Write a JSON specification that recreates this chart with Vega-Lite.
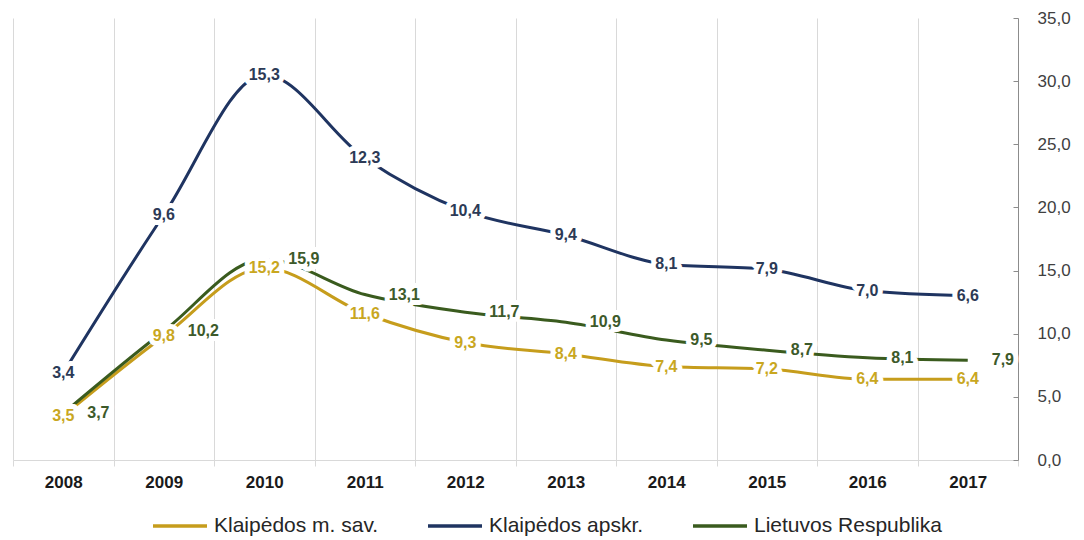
{
  "$schema": "https://vega.github.io/schema/vega-lite/v6.json",
  "width": 1005,
  "height": 442,
  "autosize": {"type": "none"},
  "padding": {"left": 13, "top": 18, "right": 66, "bottom": 80},
  "background": "white",
  "config": {
    "locale": {"number": {"decimal": ",", "thousands": " ", "grouping": [3], "currency": ["", " €"]}},
    "view": {"stroke": null},
    "font": "Liberation Sans"
  },
  "datasets": {
    "d": [
      {"year": "2008", "series": "Klaipėdos m. sav.", "value": 3.5},
      {"year": "2009", "series": "Klaipėdos m. sav.", "value": 9.8},
      {"year": "2010", "series": "Klaipėdos m. sav.", "value": 15.2},
      {"year": "2011", "series": "Klaipėdos m. sav.", "value": 11.6},
      {"year": "2012", "series": "Klaipėdos m. sav.", "value": 9.3},
      {"year": "2013", "series": "Klaipėdos m. sav.", "value": 8.4},
      {"year": "2014", "series": "Klaipėdos m. sav.", "value": 7.4},
      {"year": "2015", "series": "Klaipėdos m. sav.", "value": 7.2},
      {"year": "2016", "series": "Klaipėdos m. sav.", "value": 6.4},
      {"year": "2017", "series": "Klaipėdos m. sav.", "value": 6.4},
      {"year": "2008", "series": "Klaipėdos apskr.", "value": 3.4},
      {"year": "2009", "series": "Klaipėdos apskr.", "value": 9.6},
      {"year": "2010", "series": "Klaipėdos apskr.", "value": 15.3},
      {"year": "2011", "series": "Klaipėdos apskr.", "value": 12.3},
      {"year": "2012", "series": "Klaipėdos apskr.", "value": 10.4},
      {"year": "2013", "series": "Klaipėdos apskr.", "value": 9.4},
      {"year": "2014", "series": "Klaipėdos apskr.", "value": 8.1},
      {"year": "2015", "series": "Klaipėdos apskr.", "value": 7.9},
      {"year": "2016", "series": "Klaipėdos apskr.", "value": 7.0},
      {"year": "2017", "series": "Klaipėdos apskr.", "value": 6.6},
      {"year": "2008", "series": "Lietuvos Respublika", "value": 3.7},
      {"year": "2009", "series": "Lietuvos Respublika", "value": 10.2},
      {"year": "2010", "series": "Lietuvos Respublika", "value": 15.9},
      {"year": "2011", "series": "Lietuvos Respublika", "value": 13.1},
      {"year": "2012", "series": "Lietuvos Respublika", "value": 11.7},
      {"year": "2013", "series": "Lietuvos Respublika", "value": 10.9},
      {"year": "2014", "series": "Lietuvos Respublika", "value": 9.5},
      {"year": "2015", "series": "Lietuvos Respublika", "value": 8.7},
      {"year": "2016", "series": "Lietuvos Respublika", "value": 8.1},
      {"year": "2017", "series": "Lietuvos Respublika", "value": 7.9}
    ]
  },
  "data": {"name": "d"},
  "encoding": {
    "x": {
      "field": "year", "type": "nominal", "bandPosition": 0.5,
      "scale": {"type": "band", "paddingInner": 0, "paddingOuter": 0},
      "axis": {"title": null, "labelAngle": 0, "labelFontSize": 17, "labelFontWeight": "bold", "labelColor": "#1a1a1a",
               "tickBand": "extent", "grid": true, "gridColor": "#D9D9D9", "domainColor": "#D9D9D9", "tickColor": "#D9D9D9",
               "tickSize": 6, "labelPadding": 8}
    }
  },
  "layer": [
    {
      "transform": [
        {"filter": "datum.series != 'Lietuvos Respublika'"},
        {"stack": "value", "groupby": ["year"], "sort": [{"field": "series", "order": "descending"}], "as": ["v0", "v1"]}
      ],
      "mark": {"type": "line", "strokeWidth": 3, "interpolate": "monotone"},
      "encoding": {
        "y": {"field": "v1", "type": "quantitative", "title": null,
              "scale": {"domain": [0, 35], "nice": false},
              "axis": {"orient": "right", "values": [0, 5, 10, 15, 20, 25, 30, 35], "format": ".1f", "grid": false,
                       "domainColor": "#8C8C8C", "tickColor": "#8C8C8C", "tickSize": -5, "labelPadding": 24,
                       "labelFontSize": 17, "labelColor": "#404040", "title": null}},
        "color": {"field": "series", "type": "nominal",
                  "scale": {"domain": ["Klaipėdos m. sav.", "Klaipėdos apskr.", "Lietuvos Respublika"], "range": ["#C69D1C", "#1F3461", "#3A5B1E"]},
                  "legend": {"orient": "none", "legendX": 138, "legendY": 479, "direction": "horizontal", "title": null,
                             "symbolType": "stroke", "symbolSize": 2916, "symbolStrokeWidth": 3.5, "labelFontSize": 21,
                             "labelFont": "Liberation Sans", "labelColor": "#262626", "columnPadding": 42, "labelOffset": 5,
                             "labelLimit": 400}}
      }
    },
    {
      "transform": [{"filter": "datum.series == 'Lietuvos Respublika'"}],
      "mark": {"type": "line", "strokeWidth": 3, "interpolate": "monotone"},
      "encoding": {
        "y": {"field": "value", "type": "quantitative", "title": null,
              "axis": {"orient": "right", "values": [0, 5, 10, 15, 20, 25, 30, 35], "format": ".1f", "grid": false,
                       "domainColor": "#8C8C8C", "tickColor": "#8C8C8C", "tickSize": -5, "labelPadding": 24,
                       "labelFontSize": 17, "labelColor": "#404040", "title": null}},
        "color": {"field": "series", "type": "nominal"}
      }
    },
    {
      "transform": [
        {"filter": "datum.series != 'Lietuvos Respublika'"},
        {"stack": "value", "groupby": ["year"], "sort": [{"field": "series", "order": "descending"}], "as": ["v0", "v1"]}
      ],
      "mark": {"type": "text", "fontSize": 16, "fontWeight": "bold", "fill": "white", "stroke": "white", "strokeWidth": 10, "strokeJoin": "round", "baseline": "middle"},
      "encoding": {
        "y": {"field": "v1", "type": "quantitative", "title": null},
        "text": {"field": "value", "type": "quantitative", "format": ".1f"}
      }
    },
    {
      "transform": [{"filter": "datum.series == 'Lietuvos Respublika'"}],
      "mark": {"type": "text", "fontSize": 16, "fontWeight": "bold", "fill": "white", "stroke": "white", "strokeWidth": 10, "strokeJoin": "round", "baseline": "middle", "align": "left", "dx": 24},
      "encoding": {
        "y": {"field": "value", "type": "quantitative", "title": null},
        "text": {"field": "value", "type": "quantitative", "format": ".1f"}
      }
    },
    {
      "transform": [
        {"filter": "datum.series != 'Lietuvos Respublika'"},
        {"stack": "value", "groupby": ["year"], "sort": [{"field": "series", "order": "descending"}], "as": ["v0", "v1"]},
        {"filter": "datum.series == 'Klaipėdos m. sav.'"}
      ],
      "mark": {"type": "text", "fontSize": 16, "fontWeight": "bold", "fill": "#C9A71F", "baseline": "middle"},
      "encoding": {
        "y": {"field": "v1", "type": "quantitative", "title": null},
        "text": {"field": "value", "type": "quantitative", "format": ".1f"}
      }
    },
    {
      "transform": [
        {"filter": "datum.series != 'Lietuvos Respublika'"},
        {"stack": "value", "groupby": ["year"], "sort": [{"field": "series", "order": "descending"}], "as": ["v0", "v1"]},
        {"filter": "datum.series == 'Klaipėdos apskr.'"}
      ],
      "mark": {"type": "text", "fontSize": 16, "fontWeight": "bold", "fill": "#2C3A56", "baseline": "middle"},
      "encoding": {
        "y": {"field": "v1", "type": "quantitative", "title": null},
        "text": {"field": "value", "type": "quantitative", "format": ".1f"}
      }
    },
    {
      "transform": [{"filter": "datum.series == 'Lietuvos Respublika'"}],
      "mark": {"type": "text", "fontSize": 16, "fontWeight": "bold", "fill": "#3D5A2A", "baseline": "middle", "align": "left", "dx": 24},
      "encoding": {
        "y": {"field": "value", "type": "quantitative", "title": null},
        "text": {"field": "value", "type": "quantitative", "format": ".1f"}
      }
    }
  ]
}
